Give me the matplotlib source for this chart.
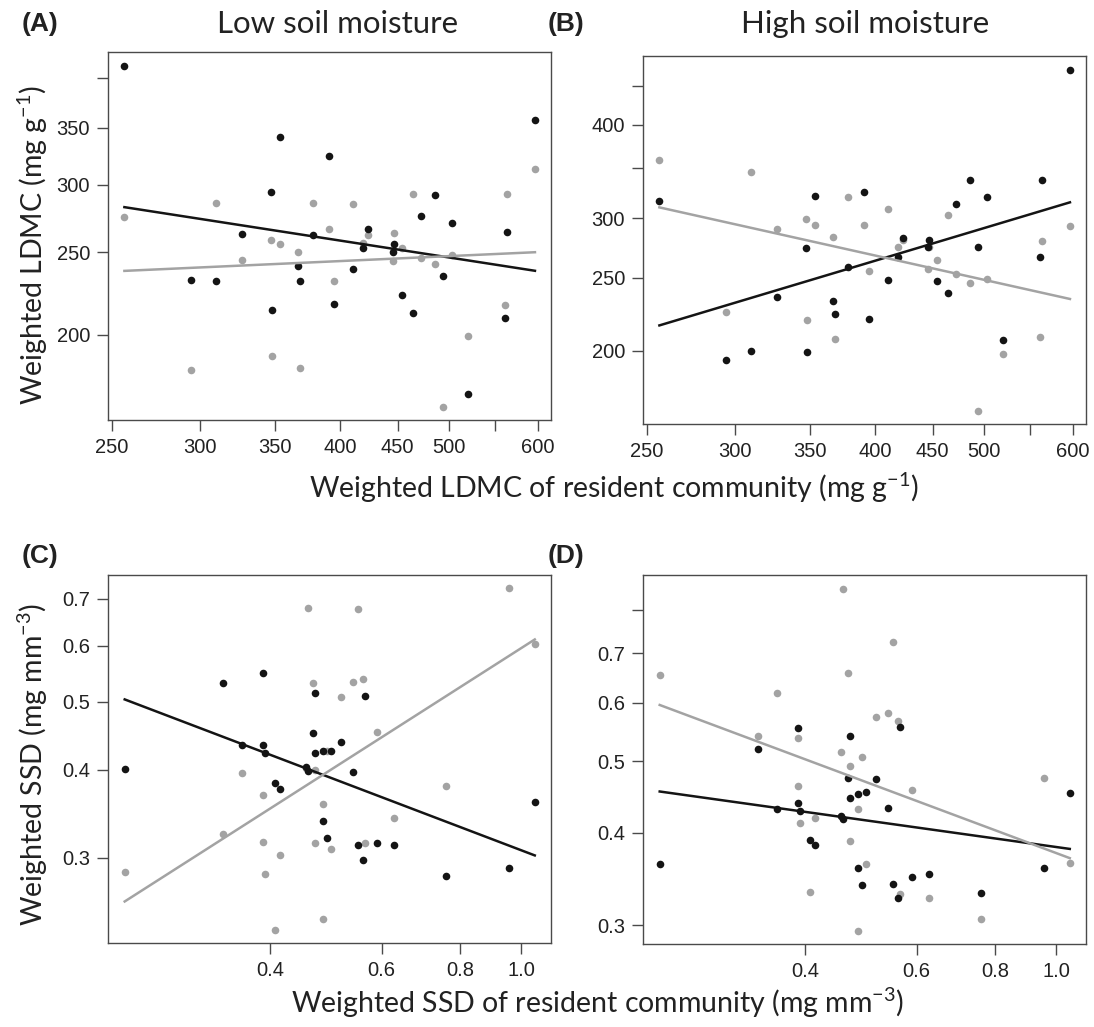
import matplotlib
matplotlib.use("Agg")
import matplotlib.pyplot as plt
import numpy as np
from matplotlib.ticker import FixedLocator, FixedFormatter, NullLocator

plt.rcParams['mathtext.fontset'] = 'custom'
plt.rcParams['mathtext.rm'] = 'Lato'
plt.rcParams['mathtext.it'] = 'Lato:italic'

# resident community LDMC (mg/g), shared by panels A and B
ldmc_res = [256.6, 294.1, 309.5, 326.9, 346.5, 347.5, 353.5, 366.3, 368.4, 378.1,
            390.4, 394.8, 410.6, 419.1, 423.7, 446.1, 447.0, 453.5, 463.9, 471.6,
            485.7, 494.1, 503.0, 519.9, 560.5, 563.6, 596.6]

# panel A, low soil moisture
ldmc_low_black = [413.4, 232.2, 231.4, 262.7, 294.2, 214.0, 341.6, 240.9, 231.0, 262.0,
                  324.0, 217.4, 238.6, 252.7, 266.3, 250.2, 255.5, 222.6, 212.0, 275.8,
                  291.6, 234.7, 270.4, 170.6, 209.2, 264.3, 357.6]
ldmc_low_grey = [275.0, 181.7, 285.4, 244.9, 258.5, 189.1, 255.5, 249.8, 182.7, 285.4,
                 265.8, 231.4, 285.1, 256.4, 262.0, 244.0, 263.2, 252.5, 292.9, 245.8,
                 242.0, 164.4, 248.4, 199.6, 216.7, 292.4, 313.1]

# panel B, high soil moisture
ldmc_high_black = [316.3, 194.1, 200.0, 235.6, 273.8, 199.2, 321.8, 232.7, 223.6, 258.1,
                   325.5, 220.5, 248.0, 266.6, 282.9, 274.4, 280.6, 247.2, 238.8, 313.7,
                   338.0, 274.9, 320.5, 206.8, 266.4, 337.7, 473.8]
ldmc_high_grey = [358.7, 225.2, 346.1, 290.8, 299.9, 219.5, 294.1, 283.5, 207.4, 320.2,
                  294.4, 255.2, 309.3, 275.2, 281.2, 256.5, 274.9, 263.7, 303.0, 252.8,
                  246.2, 166.1, 249.0, 197.6, 208.4, 280.0, 293.5]

# resident community SSD (mg/mm3), shared by panels C and D
ssd_res = [0.2349, 0.3365, 0.3602, 0.3889, 0.3894, 0.3918, 0.4069, 0.4144, 0.4551, 0.4590,
           0.4675, 0.4698, 0.4703, 0.4843, 0.4849, 0.4909, 0.4981, 0.5179, 0.5411, 0.5504,
           0.5599, 0.5647, 0.5893, 0.6271, 0.7588, 0.9557, 1.0499]

# panel C, low soil moisture
ssd_low_black = [0.4013, 0.5316, 0.4336, 0.5498, 0.4340, 0.4229, 0.3829, 0.3759, 0.4039, 0.3987,
                 0.4519, 0.5139, 0.4229, 0.3383, 0.4256, 0.3196, 0.4261, 0.4388, 0.3974, 0.3124,
                 0.2980, 0.5089, 0.3144, 0.3128, 0.2830, 0.2905, 0.3603]
ssd_low_grey = [0.2861, 0.3243, 0.3957, 0.3163, 0.3682, 0.2841, 0.2371, 0.3032, 0.4022, 0.6799,
                0.5310, 0.3153, 0.4000, 0.3579, 0.2452, 0.4261, 0.3092, 0.5078, 0.5339, 0.6770,
                0.5380, 0.3150, 0.4534, 0.3420, 0.3788, 0.7241, 0.6045]

# panel D, high soil moisture
ssd_high_black = [0.3632, 0.5196, 0.4306, 0.5548, 0.4387, 0.4284, 0.3910, 0.3853, 0.4222, 0.4178,
                  0.4753, 0.5411, 0.4456, 0.3590, 0.4517, 0.3401, 0.4545, 0.4728, 0.4319, 0.3411,
                  0.3267, 0.5571, 0.3488, 0.3517, 0.3315, 0.3583, 0.4535]
ssd_high_grey = [0.6537, 0.5411, 0.6193, 0.5383, 0.4626, 0.4122, 0.3332, 0.4196, 0.5143, 0.8555,
                 0.6578, 0.3902, 0.4928, 0.4311, 0.2948, 0.5063, 0.3632, 0.5741, 0.5807, 0.7253,
                 0.5676, 0.3308, 0.4578, 0.3267, 0.3063, 0.4743, 0.3647]

BLACK = '#141414'
GREY = '#a3a3a3'
W, H = 1094, 1027

fig = plt.figure(figsize=(W / 100, H / 100), dpi=100)


def px_axes(l, t, r, b):
    return fig.add_axes([l / W, 1 - b / H, (r - l) / W, (b - t) / H])


def fit_line(ax, x, y, color):
    # straight line on the log-log scale
    lx, ly = np.log(x), np.log(y)
    slope, icpt = np.polyfit(lx, ly, 1)
    xs = np.array([min(x), max(x)])
    ax.plot(xs, np.exp(icpt + slope * np.log(xs)), color=color, lw=1.8, zorder=4)


def panel(ax, x, yb, yg, xlim, ylim, xticks, xlabels, yticks, ylabels):
    ax.set_xscale('log')
    ax.set_yscale('log')
    ax.scatter(x, yg, s=30, color=GREY, linewidths=0, zorder=2)
    ax.scatter(x, yb, s=30, color=BLACK, linewidths=0, zorder=3)
    fit_line(ax, x, yb, BLACK)
    fit_line(ax, x, yg, GREY)
    ax.set_xlim(*xlim)
    ax.set_ylim(*ylim)
    ax.xaxis.set_major_locator(FixedLocator(xticks))
    ax.xaxis.set_major_formatter(FixedFormatter(xlabels))
    ax.yaxis.set_major_locator(FixedLocator(yticks))
    ax.yaxis.set_major_formatter(FixedFormatter(ylabels))
    ax.xaxis.set_minor_locator(NullLocator())
    ax.yaxis.set_minor_locator(NullLocator())
    for s in ax.spines.values():
        s.set_color('#4a4a4a')
        s.set_linewidth(1.0)
    ax.tick_params(direction='out', length=8, width=1.0, color='#4a4a4a',
                   labelsize=14.5, labelcolor='#222222', pad=5)
    for lab in ax.get_xticklabels() + ax.get_yticklabels():
        lab.set_family('Liberation Sans')


ldmc_xt = [250, 300, 350, 400, 450, 500, 550, 600]
ldmc_xl = ['250', '300', '350', '400', '450', '500', '', '600']
ssd_xt = [0.4, 0.6, 0.8, 1.0]
ssd_xl = ['0.4', '0.6', '0.8', '1.0']

axA = px_axes(108, 52, 551, 420)
panel(axA, ldmc_res, ldmc_low_black, ldmc_low_grey, (248.1, 616.6), (158.9, 429.2),
      ldmc_xt, ldmc_xl, [200, 250, 300, 350, 400], ['200', '250', '300', '350', ''])

axB = px_axes(643, 56, 1086, 424)
panel(axB, ldmc_res, ldmc_high_black, ldmc_high_grey, (248.1, 616.6), (159.6, 494.0),
      ldmc_xt, ldmc_xl, [200, 250, 300, 350, 400, 450], ['200', '250', '300', '', '400', ''])

axC = px_axes(108, 575, 551, 943)
panel(axC, ssd_res, ssd_low_black, ssd_low_grey, (0.221, 1.114), (0.227, 0.7566),
      ssd_xt, ssd_xl, [0.3, 0.4, 0.5, 0.6, 0.7], ['0.3', '0.4', '0.5', '0.6', '0.7'])

axD = px_axes(643, 575, 1086, 944)
panel(axD, ssd_res, ssd_high_black, ssd_high_grey, (0.221, 1.114), (0.283, 0.8935),
      ssd_xt, ssd_xl, [0.3, 0.4, 0.5, 0.6, 0.7, 0.8], ['0.3', '0.4', '0.5', '0.6', '0.7', ''])


def ftext(x, y, s, **kw):
    fig.text(x / W, 1 - y / H, s, **kw)


lab_kw = dict(family='Lato', color='#222222')
ftext(338, 24, 'Low soil moisture', ha='center', va='center', fontsize=22.5, **lab_kw)
ftext(865, 24, 'High soil moisture', ha='center', va='center', fontsize=22.5, **lab_kw)
for x, y, s in [(22, 24, '(A)'), (548, 24, '(B)'), (22, 556, '(C)'), (548, 556, '(D)')]:
    ftext(x, y, s, ha='left', va='center', fontsize=19, fontweight='bold',
          family='Liberation Sans', color='#222222')

ftext(614, 488, 'Weighted LDMC of resident community (mg g$^{-1}$)',
      ha='center', va='center', fontsize=20.5, **lab_kw)
ftext(598, 1003, 'Weighted SSD of resident community (mg mm$^{-3}$)',
      ha='center', va='center', fontsize=20.5, **lab_kw)
ftext(33, 245, 'Weighted LDMC (mg g$^{-1}$)', ha='center', va='center',
      rotation=90, fontsize=20.5, **lab_kw)
ftext(33, 764, 'Weighted SSD (mg mm$^{-3}$)', ha='center', va='center',
      rotation=90, fontsize=20.5, **lab_kw)

fig.savefig('out.png', dpi=100)
